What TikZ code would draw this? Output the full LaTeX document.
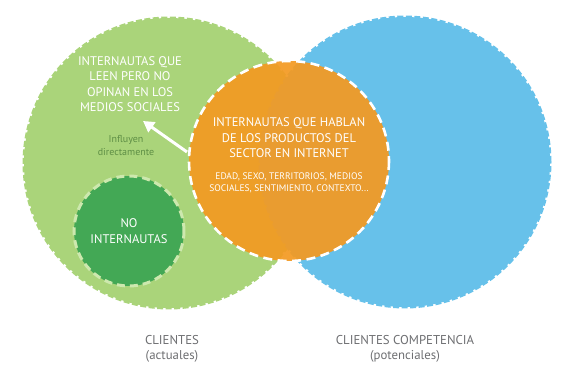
\documentclass[tikz,border=0pt]{standalone}
\usepackage{fontspec}
\setmainfont{PT Sans}
\usetikzlibrary{arrows.meta}
\definecolor{lgreen}{HTML}{AAD47A}
\definecolor{dgreen}{HTML}{43A855}
\definecolor{lorange}{HTML}{F39A22}
\definecolor{lblue}{HTML}{67C1EA}
\definecolor{greytext}{HTML}{6D6E71}
\definecolor{infl}{HTML}{5E8E45}
\definecolor{paledash}{HTML}{CDE8AE}
\tikzset{
  bigcirc/.style={circle, minimum size=#1, inner sep=0pt},
  serr/.style={line width=3pt, dash pattern=on 6pt off 2.5pt},
  wdash/.style={draw=white, line width=2.6pt, dash pattern=on 9pt off 5.5pt},
  wlabel/.style={text=white, align=center, font=\fontsize{12.5}{15.5}\selectfont},
  slabel/.style={text=white, align=center, font=\fontsize{9.5}{12}\selectfont},
  glabel/.style={text=greytext, align=center, font=\fontsize{12.8}{15}\selectfont},
}
\begin{document}
\begin{tikzpicture}[x=1pt,y=-1pt]
\useasboundingbox (0,0) rectangle (571,379);
% big circles
\node[bigcirc=290pt, fill=lgreen, draw=lgreen, serr] (green) at (169,163) {};
\node[bigcirc=290pt, fill=lblue, draw=lblue, serr] (blue) at (405,162) {};
% orange
\node[bigcirc=200pt, fill=lorange, fill opacity=0.93] (orange) at (289,161) {};
\draw[wdash] (289,161) circle (100);
% dark green
\node[bigcirc=110pt, fill=dgreen, draw=paledash, line width=3pt, dash pattern=on 8pt off 5pt] (nointer) at (129,231) {};
% texts
\node[wlabel] (lectores) at (130,84) {INTERNAUTAS QUE\\LEEN PERO NO\\OPINAN EN LOS\\MEDIOS SOCIALES};
\node[text=infl, align=center, font=\fontsize{10}{13}\selectfont] (influyen) at (126,146) {Influyen\\directamente};
\node[wlabel] (hablan) at (289,138) {INTERNAUTAS QUE HABLAN\\DE LOS PRODUCTOS DEL\\SECTOR EN INTERNET};
\node[slabel] (datos) at (289,183) {EDAD, SEXO, TERRITORIOS, MEDIOS\\SOCIALES, SENTIMIENTO, CONTEXTO...};
\node[wlabel] at (nointer) {NO\\INTERNAUTAS};
\node[glabel] (clientes) at (172,349) {CLIENTES\\(actuales)};
\node[glabel] (competencia) at (405,349) {CLIENTES COMPETENCIA\\(potenciales)};
% arrow
\coordinate (atail) at (187,152);
\coordinate (ahead) at (143,121);
\draw[white, line width=3pt, -{Triangle[length=11pt,width=12pt]}] (atail) -- (ahead);
\end{tikzpicture}
\end{document}
